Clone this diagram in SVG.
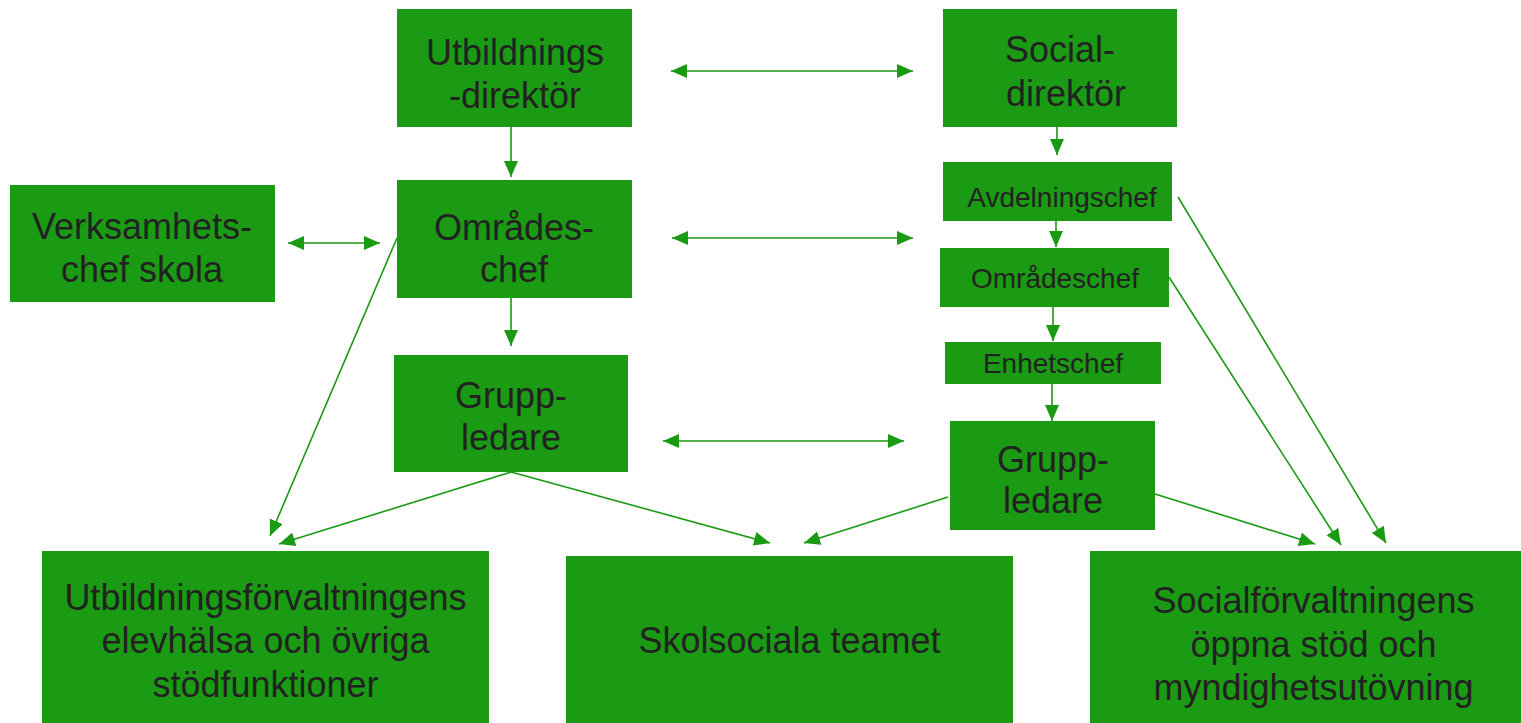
<svg xmlns="http://www.w3.org/2000/svg" width="1521" height="723" viewBox="0 0 1521 723">
<style>
.box{fill:#1b9a14;}
.lg{font-family:"Liberation Sans",Arial,sans-serif;font-size:36px;fill:#222222;text-anchor:middle;}
.sm{font-family:"Liberation Sans",Arial,sans-serif;font-size:28px;fill:#222222;text-anchor:middle;}
.c{stroke:#1b9a14;stroke-width:1.6;fill:none;}
</style>
<defs>
<marker id="ah" markerUnits="userSpaceOnUse" markerWidth="18" markerHeight="16" refX="16" refY="7" orient="auto-start-reverse">
<path d="M0,0 L16,7 L0,14 z" fill="#1b9a14"/>
</marker>
</defs>
<rect width="1521" height="723" fill="#ffffff"/>
<g id="n-utbdir"><rect class="box" x="397" y="9" width="235" height="118"/><text class="lg" x="515" y="65">Utbildnings</text><text class="lg" x="515" y="108">-direktör</text></g>
<g id="n-socdir"><rect class="box" x="943" y="9" width="234" height="118"/><text class="lg" x="1060" y="62">Social-</text><text class="lg" x="1066" y="106">direktör</text></g>
<g id="n-verks"><rect class="box" x="10" y="185" width="265" height="117"/><text class="lg" x="142" y="239">Verksamhets-</text><text class="lg" x="142" y="282">chef skola</text></g>
<g id="n-omrchef"><rect class="box" x="397" y="180" width="235" height="118"/><text class="lg" x="514" y="240">Områdes-</text><text class="lg" x="514" y="282">chef</text></g>
<g id="n-grupp1"><rect class="box" x="394" y="355" width="234" height="117"/><text class="lg" x="511" y="408">Grupp-</text><text class="lg" x="511" y="450">ledare</text></g>
<g id="n-avd"><rect class="box" x="943" y="162" width="229" height="59"/><text class="sm" x="1062" y="207">Avdelningschef</text></g>
<g id="n-omr2"><rect class="box" x="940" y="248" width="229" height="59"/><text class="sm" x="1055" y="288">Områdeschef</text></g>
<g id="n-enh"><rect class="box" x="945" y="342" width="216" height="42"/><text class="sm" x="1053" y="373">Enhetschef</text></g>
<g id="n-grupp2"><rect class="box" x="950" y="421" width="205" height="109"/><text class="lg" x="1053" y="472">Grupp-</text><text class="lg" x="1053" y="513">ledare</text></g>
<g id="n-utbforv"><rect class="box" x="42" y="551" width="447" height="180"/><text class="lg" x="265.5" y="610">Utbildningsförvaltningens</text><text class="lg" x="265.5" y="653">elevhälsa och övriga</text><text class="lg" x="265.5" y="697">stödfunktioner</text></g>
<g id="n-skol"><rect class="box" x="566" y="556" width="447" height="180"/><text class="lg" x="789.5" y="653">Skolsociala teamet</text></g>
<g id="n-socforv"><rect class="box" x="1090" y="551" width="447" height="180"/><text class="lg" x="1313.5" y="613">Socialförvaltningens</text><text class="lg" x="1313.5" y="657">öppna stöd och</text><text class="lg" x="1313.5" y="700">myndighetsutövning</text></g>
<g id="connectors">
<path class="c" d="M671,71 L913,71" marker-start="url(#ah)" marker-end="url(#ah)"/>
<path class="c" d="M511,127 L511,177" marker-end="url(#ah)"/>
<path class="c" d="M1057,127 L1057,155" marker-end="url(#ah)"/>
<path class="c" d="M288,243 L380,243" marker-start="url(#ah)" marker-end="url(#ah)"/>
<path class="c" d="M672,238 L913,238" marker-start="url(#ah)" marker-end="url(#ah)"/>
<path class="c" d="M511,298 L511,346" marker-end="url(#ah)"/>
<path class="c" d="M1056,221 L1056,247" marker-end="url(#ah)"/>
<path class="c" d="M1053,307 L1053,341" marker-end="url(#ah)"/>
<path class="c" d="M1052,384 L1052,421" marker-end="url(#ah)"/>
<path class="c" d="M663,441 L904,441" marker-start="url(#ah)" marker-end="url(#ah)"/>
<path class="c" d="M397,238 L270,536" marker-end="url(#ah)"/>
<path class="c" d="M511,472 L279,544" marker-end="url(#ah)"/>
<path class="c" d="M511,472 L770,543" marker-end="url(#ah)"/>
<path class="c" d="M948,497 L804,543" marker-end="url(#ah)"/>
<path class="c" d="M1155,494 L1315,544" marker-end="url(#ah)"/>
<path class="c" d="M1169,277 L1341,545" marker-end="url(#ah)"/>
<path class="c" d="M1178,197 L1386,543" marker-end="url(#ah)"/>
</g>
</svg>
